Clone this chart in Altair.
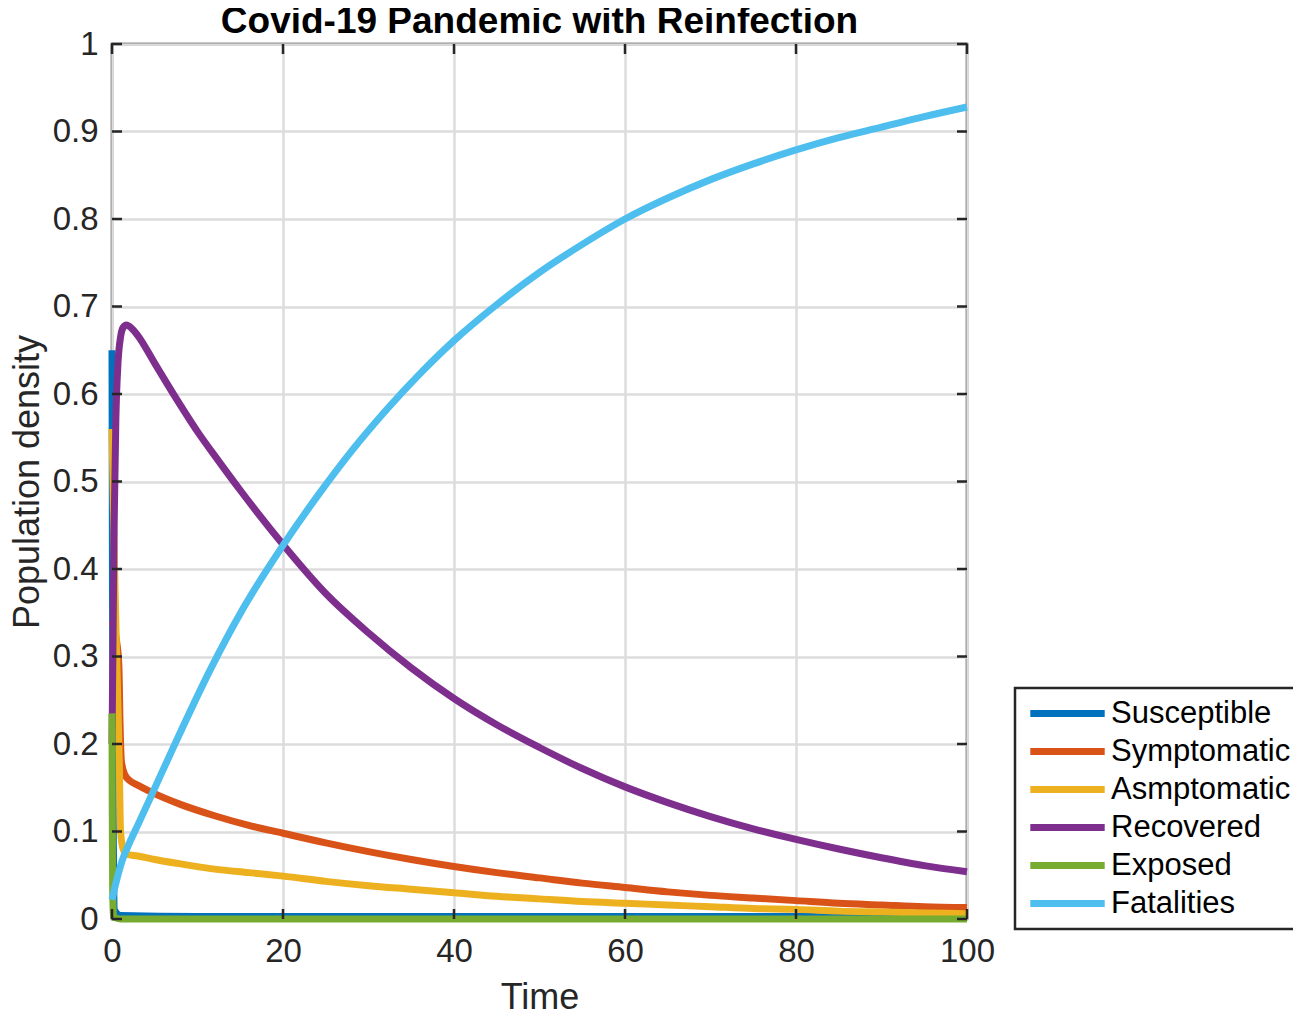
import altair as alt
import pandas as pd

series_names = ["Susceptible", "Symptomatic", "Asmptomatic", "Recovered", "Exposed", "Fatalities"]
series_colors = ["#0072BD", "#D95319", "#EDB120", "#7E2F8E", "#77AC30", "#4DBEEE"]

sus_t = [0, 0.05, 0.15, 0.3, 1, 10, 30, 50, 70, 100]
sus_v = [0.65, 0.40, 0.10, 0.01, 0.004, 0.003, 0.003, 0.003, 0.003, 0.003]

sym_t = [0, 0.5, 0.8, 0.95, 1.1, 1.5, 2.1, 3, 4.6, 8, 12, 16, 20, 25, 30, 35, 40, 45, 50,
         55, 60, 65, 70, 75, 80, 85, 90, 95, 100]
sym_v = [0.34, 0.32, 0.29, 0.22, 0.18, 0.165, 0.158, 0.153, 0.145, 0.131, 0.118, 0.107,
         0.098, 0.087, 0.077, 0.068, 0.060, 0.053, 0.047, 0.041, 0.036, 0.031, 0.027,
         0.024, 0.021, 0.018, 0.016, 0.014, 0.013]

asy_t = [0, 0.3, 0.6, 0.85, 1.0, 1.3, 1.7, 3, 5, 8, 12, 16, 20, 25, 30, 35, 40, 45, 50,
         55, 60, 65, 70, 75, 80, 85, 90, 95, 100]
asy_v = [0.56, 0.40, 0.28, 0.18, 0.10, 0.08, 0.074, 0.072, 0.068, 0.063, 0.057, 0.053,
         0.049, 0.043, 0.038, 0.034, 0.030, 0.026, 0.023, 0.020, 0.018, 0.016, 0.014,
         0.012, 0.011, 0.009, 0.008, 0.007, 0.006]

rec_t = [0, 0.1, 0.25, 0.45, 0.7, 1, 1.3, 1.7, 2.3, 3, 5, 7.5, 10, 12.5, 15, 20, 25, 30,
         35, 40, 45, 50, 55, 60, 65, 70, 75, 80, 85, 90, 95, 100]
rec_v = [0.20, 0.30, 0.45, 0.57, 0.635, 0.665, 0.676, 0.679, 0.675, 0.667, 0.635, 0.595,
         0.557, 0.523, 0.490, 0.428, 0.372, 0.327, 0.287, 0.252, 0.222, 0.196, 0.172,
         0.151, 0.133, 0.117, 0.103, 0.091, 0.080, 0.070, 0.061, 0.054]

exp_t = [0, 0.03, 0.08, 0.2, 1, 100]
exp_v = [0.235, 0.12, 0.03, 0.002, 0.0, 0.0]

fat_t = [0, 0.4, 0.8, 1.2, 2, 3, 4.6, 7.5, 11.5, 15.4, 20, 24.3, 28.2, 32.1, 36, 40, 44.6,
         50, 55, 60, 65, 70, 75, 80, 85, 90, 95, 100]
fat_v = [0.022, 0.039, 0.054, 0.067, 0.086, 0.107, 0.141, 0.203, 0.285, 0.356, 0.427,
         0.487, 0.537, 0.582, 0.623, 0.661, 0.699, 0.739, 0.771, 0.800, 0.824, 0.845,
         0.863, 0.879, 0.893, 0.905, 0.917, 0.928]

x_ticks = [0, 20, 40, 60, 80, 100]
y_ticks = [0, 0.1, 0.2, 0.3, 0.4, 0.5, 0.6, 0.7, 0.8, 0.9, 1]

series_data = [(series_names[0], sus_t, sus_v), (series_names[1], sym_t, sym_v),
               (series_names[2], asy_t, asy_v), (series_names[3], rec_t, rec_v),
               (series_names[4], exp_t, exp_v), (series_names[5], fat_t, fat_v)]

W, H = 855, 875
FONT = "Liberation Sans"
INK = "#262626"

xscale = alt.Scale(domain=[0, 100], nice=False)
yscale = alt.Scale(domain=[0, 1], nice=False)
x_axis = alt.Axis(values=x_ticks, format="d", title="Time", labelPadding=16,
                  titlePadding=12, labelFlush=False)
y_axis = alt.Axis(values=y_ticks, format="~g", title="Population density",
                  labelPadding=14, titlePadding=6, labelFlush=False)

legend = alt.Legend(
    title=None, orient="none", legendX=903, legendY=644,
    symbolType="M-3.1,0H3.1", symbolSize=576, symbolStrokeWidth=7,
    symbolOffset=27, labelOffset=28, labelFontSize=31, labelFont=FONT,
    labelColor="black", labelLimit=400, rowPadding=6, padding=10,
    strokeColor=INK, fillColor="white",
)

layers = []
for name, ts, vs in series_data:
    df = pd.DataFrame({"Time": ts, "value": vs, "series": name})
    layers.append(
        alt.Chart(df).mark_line(strokeWidth=7, interpolate="monotone").encode(
            x=alt.X("Time:Q", scale=xscale, axis=x_axis),
            y=alt.Y("value:Q", scale=yscale, axis=y_axis),
            color=alt.Color("series:N",
                            scale=alt.Scale(domain=series_names, range=series_colors),
                            legend=legend),
        )
    )

ydf = pd.DataFrame({"value": y_ticks})
xdf = pd.DataFrame({"Time": x_ticks})
tick_style = dict(color=INK, strokeWidth=2.5)
yt_left = alt.Chart(ydf).mark_rule(**tick_style).encode(
    y=alt.Y("value:Q", scale=yscale, axis=y_axis), x=alt.value(0), x2=alt.value(10))
yt_right = alt.Chart(ydf).mark_rule(**tick_style).encode(
    y=alt.Y("value:Q", scale=yscale, axis=y_axis), x=alt.value(W - 10), x2=alt.value(W))
xt_top = alt.Chart(xdf).mark_rule(**tick_style).encode(
    x=alt.X("Time:Q", scale=xscale, axis=x_axis), y=alt.value(0), y2=alt.value(10))
xt_bot = alt.Chart(xdf).mark_rule(**tick_style).encode(
    x=alt.X("Time:Q", scale=xscale, axis=x_axis), y=alt.value(H - 10), y2=alt.value(H))

chart = alt.layer(*layers, yt_left, yt_right, xt_top, xt_bot).properties(
    width=W, height=H,
    title=alt.TitleParams("Covid-19 Pandemic with Reinfection", fontSize=37,
                          fontWeight="bold", font=FONT, anchor="middle", offset=-13,
                          color="black"),
    autosize=alt.AutoSizeParams(type="none"),
    padding={"left": 104, "top": 36, "right": 326, "bottom": 93},
).configure_view(
    stroke=INK, strokeWidth=2.5
).configure_axis(
    domain=False, ticks=False, tickSize=0, grid=True, gridColor="#dcdcdc",
    gridWidth=2.5, labelFont=FONT, labelFontSize=33, labelColor=INK,
    titleFont=FONT, titleFontSize=36, titleFontWeight="normal", titleColor=INK,
).configure_legend(
    strokeWidth=2.5
)

chart.save("out.html", embed_options={"renderer": "svg", "actions": False})
